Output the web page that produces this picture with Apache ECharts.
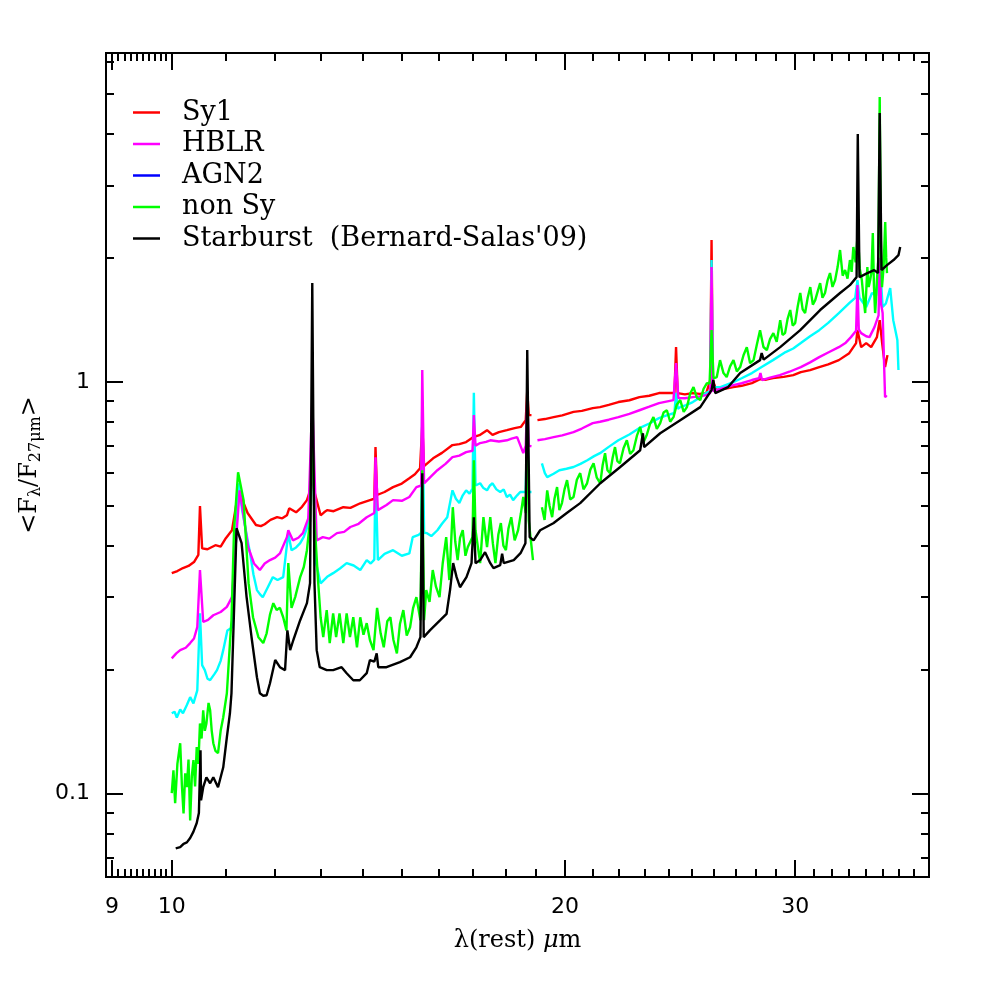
<!DOCTYPE html>
<html>
<head>
<meta charset="utf-8">
<script src="https://cdn.jsdelivr.net/npm/echarts@6/dist/echarts.min.js"></script>
<style>
  html, body { margin: 0; padding: 0; background: #fff; }
  #chart { width: 981px; height: 981px; }
</style>
</head>
<body>
<div id="chart"></div>
<script>
// wavelength (micron), <F_lambda / F_27um>
const sy1 = [[10.0,0.343],[10.1,0.347],[10.2,0.353],[10.3,0.357],[10.4,0.365],[10.48,0.380],[10.51,0.499],[10.55,0.394],[10.65,0.392],[10.8,0.401],[10.9,0.398],[11.0,0.417],[11.12,0.436],[11.25,0.545],[11.43,0.480],[11.6,0.449],[11.7,0.446],[11.78,0.451],[11.9,0.462],[12.04,0.469],[12.15,0.466],[12.25,0.474],[12.3,0.493],[12.45,0.482],[12.58,0.497],[12.69,0.516],[12.78,0.552],[12.81,0.627],[12.85,0.545],[13.0,0.474],[13.08,0.482],[13.15,0.488],[13.3,0.485],[13.53,0.496],[13.7,0.494],[13.94,0.507],[14.18,0.516],[14.29,0.52],[14.32,0.694],[14.36,0.531],[14.55,0.540],[14.77,0.555],[15.0,0.566],[15.2,0.583],[15.35,0.596],[15.49,0.617],[15.55,0.785],[15.6,0.624],[15.85,0.652],[16.1,0.672],[16.4,0.702],[16.6,0.706],[16.8,0.714],[17.03,0.735],[17.2,0.742],[17.43,0.763],[17.6,0.743],[17.8,0.755],[18.05,0.763],[18.3,0.772],[18.5,0.777],[18.66,0.807],[18.71,0.95],[18.76,0.83],[18.85,0.830],[18.95,'-'],[19.05,0.807],[19.3,0.812],[19.6,0.821],[19.9,0.829],[20.3,0.845],[20.6,0.850],[21.0,0.863],[21.27,0.868],[21.6,0.879],[21.97,0.893],[22.4,0.902],[22.8,0.918],[23.2,0.925],[23.6,0.939],[24.25,0.939],[24.32,1.214],[24.39,0.939],[24.7,0.932],[25.05,0.939],[25.35,0.935],[25.65,0.939],[25.83,1.01],[25.89,2.21],[25.95,1.01],[26.1,0.955],[26.5,0.962],[26.9,0.971],[27.3,0.978],[27.8,0.993],[28.2,1.015],[28.5,1.012],[28.85,1.021],[29.4,1.028],[29.9,1.038],[30.3,1.056],[30.8,1.068],[31.3,1.086],[31.8,1.102],[32.4,1.129],[33.0,1.174],[33.4,1.242],[33.48,1.336],[33.7,1.214],[34.0,1.242],[34.3,1.214],[34.65,1.284],[34.82,1.412],[34.97,1.242],[35.15,1.086],[35.3,1.161]];

const hblr = [[10.0,0.213],[10.08,0.219],[10.15,0.223],[10.25,0.226],[10.33,0.232],[10.4,0.238],[10.46,0.2535],[10.51,0.349],[10.57,0.261],[10.66,0.264],[10.76,0.271],[10.9,0.276],[11.02,0.284],[11.12,0.300],[11.2,0.412],[11.27,0.545],[11.32,0.50],[11.44,0.397],[11.56,0.362],[11.68,0.349],[11.78,0.362],[11.89,0.369],[12.0,0.374],[12.1,0.383],[12.25,0.4195],[12.28,0.436],[12.38,0.412],[12.5,0.418],[12.6,0.429],[12.72,0.466],[12.81,0.903],[12.91,0.412],[13.05,0.4195],[13.2,0.416],[13.38,0.429],[13.55,0.432],[13.7,0.444],[13.9,0.452],[14.1,0.469],[14.29,0.48],[14.32,0.656],[14.38,0.488],[14.6,0.502],[14.77,0.516],[15.0,0.514],[15.2,0.525],[15.39,0.555],[15.52,0.56],[15.55,1.068],[15.6,0.567],[15.8,0.590],[15.97,0.610],[16.2,0.632],[16.4,0.656],[16.6,0.662],[16.8,0.675],[16.99,0.68],[17.03,0.830],[17.08,0.70],[17.22,0.710],[17.4,0.715],[17.53,0.721],[17.8,0.716],[18.05,0.721],[18.2,0.728],[18.38,0.734],[18.58,0.671],[18.66,0.70],[18.71,0.903],[18.76,0.70],[18.85,0.697],[18.95,'-'],[19.05,0.721],[19.3,0.726],[19.6,0.734],[19.9,0.741],[20.3,0.755],[20.6,0.770],[21.0,0.794],[21.27,0.80],[21.6,0.809],[21.97,0.821],[22.4,0.836],[22.8,0.853],[23.2,0.870],[23.6,0.888],[24.21,0.903],[24.32,1.110],[24.42,0.913],[24.7,0.912],[25.05,0.918],[25.35,0.922],[25.65,0.928],[25.83,0.94],[25.89,1.90],[25.95,0.95],[26.1,0.955],[26.5,0.968],[26.9,0.982],[27.3,0.992],[27.8,1.01],[28.15,1.02],[28.22,1.05],[28.3,1.01],[28.7,1.024],[29.2,1.038],[29.7,1.058],[30.3,1.086],[30.8,1.115],[31.3,1.148],[31.8,1.178],[32.4,1.214],[32.8,1.245],[33.1,1.284],[33.4,1.33],[33.48,1.717],[33.56,1.34],[33.7,1.313],[34.0,1.29],[34.2,1.284],[34.5,1.358],[34.75,1.45],[34.82,2.0],[34.9,1.55],[35.0,1.469],[35.15,0.918],[35.25,0.928]];

const agn2 = [[10.0,0.1567],[10.05,0.158],[10.09,0.153],[10.15,0.160],[10.2,0.1567],[10.27,0.164],[10.33,0.1714],[10.39,0.1656],[10.46,0.178],[10.51,0.274],[10.55,0.205],[10.6,0.1994],[10.65,0.190],[10.7,0.1885],[10.78,0.195],[10.83,0.1994],[10.9,0.210],[10.95,0.223],[11.03,0.249],[11.12,0.253],[11.18,0.369],[11.25,0.567],[11.32,0.488],[11.48,0.3835],[11.55,0.340],[11.62,0.312],[11.68,0.305],[11.74,0.2997],[11.85,0.318],[11.95,0.3354],[12.05,0.330],[12.17,0.3354],[12.28,0.429],[12.35,0.390],[12.45,0.396],[12.54,0.4056],[12.62,0.420],[12.69,0.441],[12.76,0.488],[12.81,0.807],[12.88,0.369],[13.0,0.324],[13.15,0.336],[13.29,0.343],[13.45,0.352],[13.61,0.3627],[13.78,0.358],[13.94,0.349],[14.1,0.369],[14.2,0.362],[14.29,0.37],[14.32,0.610],[14.38,0.369],[14.55,0.382],[14.77,0.390],[15.0,0.378],[15.2,0.383],[15.29,0.4195],[15.45,0.425],[15.52,0.43],[15.55,0.903],[15.6,0.43],[15.68,0.429],[15.8,0.422],[15.97,0.436],[16.1,0.452],[16.25,0.469],[16.4,0.545],[16.5,0.520],[16.6,0.5075],[16.7,0.530],[16.8,0.545],[16.9,0.535],[16.99,0.55],[17.03,0.94],[17.08,0.56],[17.22,0.567],[17.32,0.552],[17.43,0.545],[17.52,0.560],[17.6,0.567],[17.72,0.548],[17.84,0.540],[17.95,0.548],[18.05,0.525],[18.15,0.532],[18.25,0.516],[18.38,0.530],[18.48,0.540],[18.66,0.54],[18.71,0.807],[18.76,0.54],[18.85,0.540],[19.0,'-'],[19.2,0.634],[19.3,0.600],[19.38,0.587],[19.6,0.598],[19.8,0.610],[20.05,0.615],[20.3,0.621],[20.55,0.632],[20.8,0.645],[21.05,0.660],[21.27,0.671],[21.6,0.695],[21.97,0.721],[22.4,0.745],[22.8,0.772],[23.2,0.792],[23.6,0.816],[23.95,0.830],[24.25,0.84],[24.32,0.94],[24.4,0.86],[24.5,0.868],[24.75,0.878],[25.05,0.893],[25.35,0.915],[25.65,0.94],[25.83,0.95],[25.89,1.976],[25.95,0.97],[26.3,0.971],[26.6,0.985],[26.9,0.998],[27.3,1.02],[27.8,1.05],[28.3,1.088],[28.85,1.129],[29.5,1.181],[29.9,1.205],[30.3,1.242],[30.8,1.29],[31.3,1.335],[31.8,1.39],[32.4,1.469],[33.0,1.553],[33.35,1.60],[33.48,1.767],[33.6,1.60],[33.7,1.579],[34.0,1.519],[34.35,1.643],[34.6,1.62],[34.82,1.976],[35.0,1.519],[35.2,1.55],[35.47,1.689],[35.66,1.412],[35.8,1.33],[35.92,1.263],[35.99,1.068]];

const nonSy = [[10.0,0.1002],[10.03,0.1139],[10.06,0.0947],[10.1,0.118],[10.15,0.1325],[10.18,0.105],[10.21,0.0895],[10.24,0.112],[10.27,0.1036],[10.3,0.121],[10.33,0.0860],[10.36,0.110],[10.39,0.1205],[10.42,0.104],[10.45,0.1296],[10.48,0.118],[10.51,0.148],[10.54,0.136],[10.57,0.1593],[10.6,0.142],[10.63,0.148],[10.67,0.166],[10.7,0.1593],[10.73,0.142],[10.76,0.1325],[10.8,0.127],[10.85,0.1253],[10.9,0.142],[10.95,0.1532],[11.02,0.1752],[11.08,0.232],[11.11,0.2636],[11.16,0.436],[11.24,0.603],[11.35,0.516],[11.45,0.3243],[11.54,0.268],[11.65,0.2398],[11.75,0.232],[11.82,0.245],[11.89,0.272],[11.96,0.290],[12.03,0.279],[12.1,0.2825],[12.17,0.268],[12.24,0.249],[12.28,0.3627],[12.35,0.2825],[12.43,0.300],[12.54,0.3354],[12.62,0.355],[12.69,0.390],[12.76,0.461],[12.81,0.807],[12.86,0.461],[12.94,0.330],[13.0,0.268],[13.06,0.2398],[13.14,0.279],[13.21,0.232],[13.29,0.274],[13.36,0.2398],[13.44,0.274],[13.53,0.232],[13.61,0.274],[13.69,0.2398],[13.77,0.268],[13.86,0.2266],[13.94,0.268],[14.02,0.243],[14.1,0.2593],[14.18,0.236],[14.27,0.223],[14.36,0.2825],[14.45,0.245],[14.53,0.2266],[14.62,0.262],[14.7,0.268],[14.78,0.236],[14.87,0.219],[14.95,0.258],[15.04,0.279],[15.13,0.242],[15.22,0.2535],[15.3,0.282],[15.39,0.300],[15.5,0.2636],[15.55,0.610],[15.6,0.2636],[15.66,0.312],[15.75,0.292],[15.84,0.349],[15.93,0.318],[16.03,0.300],[16.12,0.362],[16.22,0.4195],[16.31,0.330],[16.41,0.496],[16.48,0.410],[16.55,0.369],[16.62,0.418],[16.7,0.436],[16.78,0.378],[16.85,0.397],[16.99,0.42],[17.03,0.645],[17.08,0.436],[17.15,0.398],[17.22,0.3627],[17.32,0.469],[17.43,0.397],[17.53,0.469],[17.61,0.405],[17.69,0.3627],[17.78,0.425],[17.86,0.454],[17.94,0.400],[18.02,0.390],[18.1,0.440],[18.19,0.469],[18.3,0.412],[18.41,0.436],[18.5,0.478],[18.58,0.525],[18.66,0.48],[18.71,0.807],[18.76,0.46],[18.8,0.461],[18.9,0.369],[19.0,'-'],[19.2,0.496],[19.29,0.462],[19.38,0.545],[19.46,0.500],[19.55,0.469],[19.63,0.520],[19.72,0.555],[19.8,0.488],[19.89,0.5075],[19.98,0.548],[20.07,0.577],[20.18,0.518],[20.3,0.525],[20.42,0.578],[20.54,0.600],[20.66,0.548],[20.79,0.567],[20.91,0.612],[21.03,0.634],[21.15,0.585],[21.28,0.567],[21.37,0.628],[21.46,0.671],[21.55,0.610],[21.65,0.600],[21.75,0.655],[21.84,0.694],[21.93,0.642],[22.03,0.634],[22.17,0.690],[22.3,0.721],[22.43,0.668],[22.56,0.682],[22.7,0.740],[22.83,0.777],[22.96,0.712],[23.1,0.744],[23.23,0.790],[23.37,0.821],[23.51,0.768],[23.65,0.794],[23.79,0.842],[23.93,0.853],[24.07,0.800],[24.21,0.821],[24.35,0.880],[24.5,0.903],[24.65,0.845],[24.79,0.868],[24.93,0.935],[25.08,0.971],[25.23,0.915],[25.38,0.903],[25.53,0.962],[25.68,0.993],[25.8,0.99],[25.89,1.335],[25.98,1.02],[26.13,1.027],[26.28,1.129],[26.44,1.050],[26.59,1.027],[26.75,1.090],[26.91,1.129],[27.07,1.060],[27.23,1.086],[27.39,1.160],[27.55,1.214],[27.71,1.110],[27.88,1.129],[28.04,1.230],[28.2,1.335],[28.37,1.215],[28.54,1.194],[28.7,1.270],[28.87,1.313],[29.04,1.250],[29.22,1.412],[29.34,1.300],[29.47,1.313],[29.6,1.420],[29.74,1.494],[29.87,1.370],[30.0,1.389],[30.13,1.520],[30.27,1.643],[30.4,1.500],[30.53,1.469],[30.67,1.600],[30.81,1.698],[30.95,1.540],[31.08,1.579],[31.22,1.660],[31.35,1.737],[31.48,1.600],[31.62,1.643],[31.76,1.760],[31.9,1.837],[32.04,1.700],[32.19,1.767],[32.33,1.900],[32.47,2.09],[32.62,1.810],[32.76,1.868],[32.9,1.780],[33.04,1.976],[33.14,1.850],[33.24,2.125],[33.37,1.950],[33.5,2.3],[33.62,1.880],[33.74,1.767],[33.84,1.600],[33.94,1.469],[34.0,1.650],[34.07,1.90],[34.15,1.700],[34.24,1.767],[34.32,1.850],[34.4,2.298],[34.47,1.700],[34.54,1.469],[34.6,1.600],[34.65,1.767],[34.74,2.0],[34.82,4.918],[34.89,2.2],[34.96,1.698],[35.06,1.900],[35.16,2.443],[35.22,2.000],[35.27,1.837]];

const starburst = [[10.07,0.0736],[10.15,0.0741],[10.21,0.0755],[10.27,0.0761],[10.33,0.078],[10.39,0.0808],[10.45,0.0848],[10.49,0.0897],[10.52,0.1274],[10.53,0.0963],[10.57,0.1036],[10.63,0.1095],[10.7,0.1059],[10.76,0.1095],[10.85,0.1036],[10.95,0.1158],[11.02,0.137],[11.08,0.1567],[11.11,0.1752],[11.15,0.2535],[11.21,0.441],[11.31,0.4056],[11.41,0.300],[11.51,0.2397],[11.62,0.1916],[11.68,0.1752],[11.75,0.1728],[11.82,0.1733],[11.89,0.1853],[12.0,0.211],[12.1,0.2027],[12.21,0.1994],[12.26,0.249],[12.32,0.223],[12.39,0.236],[12.54,0.2636],[12.69,0.290],[12.76,0.3243],[12.81,1.737],[12.86,0.3243],[12.91,0.223],[12.98,0.2027],[13.14,0.1994],[13.29,0.1994],[13.49,0.2027],[13.61,0.196],[13.77,0.1884],[13.93,0.1884],[14.1,0.196],[14.18,0.211],[14.29,0.209],[14.35,0.219],[14.39,0.2027],[14.6,0.2027],[14.95,0.2085],[15.22,0.2143],[15.39,0.2266],[15.5,0.2398],[15.55,0.600],[15.59,0.2398],[15.76,0.249],[16.05,0.2636],[16.23,0.273],[16.33,0.312],[16.42,0.3627],[16.52,0.3354],[16.62,0.317],[16.81,0.3354],[16.96,0.3627],[17.03,0.469],[17.08,0.3627],[17.22,0.369],[17.37,0.3857],[17.53,0.3627],[17.63,0.3527],[17.84,0.3587],[17.9,0.3825],[17.95,0.3627],[18.27,0.369],[18.49,0.3835],[18.65,0.4056],[18.71,1.194],[18.79,0.4195],[18.92,0.412],[19.14,0.436],[19.59,0.4535],[20.06,0.480],[20.54,0.5075],[21.28,0.567],[22.03,0.620],[22.83,0.682],[22.94,0.750],[22.99,0.694],[23.65,0.750],[24.5,0.807],[25.38,0.868],[25.89,0.955],[25.97,1.01],[26.06,0.939],[26.66,0.971],[27.23,1.050],[28.2,1.129],[28.28,1.174],[28.38,1.132],[29.22,1.214],[30.27,1.335],[31.35,1.494],[32.47,1.643],[33.04,1.717],[33.43,1.796],[33.5,3.998],[33.6,1.796],[34.07,1.837],[34.48,1.868],[34.72,1.837],[34.82,4.495],[34.93,1.868],[35.27,1.921],[35.68,1.976],[35.99,2.03],[36.1,2.125]];

// axis ticks and labels
const xMajor = [9, 10, 20, 30];
const xMinor = [9.1, 9.2, 9.3, 9.4, 9.5, 9.6, 9.7, 9.8, 9.9, 11, 12, 13, 14, 15, 16, 17, 18, 19, 21, 22, 23, 24, 25, 26, 27, 28, 29, 31, 32, 33, 34, 35, 36, 37];
const xLabels = [9, 10, 20, 30];
const yMajor = [0.1, 1];
const yMinor = [0.07, 0.08, 0.09, 0.2, 0.3, 0.4, 0.5, 0.6, 0.7, 0.8, 0.9, 2, 3, 4, 5, 6];
const yLabels = [0.1, 1];

const X_MIN = 8.906, X_MAX = 37.98;
const Y_MIN = 0.0627, Y_MAX = 6.29;

const chart = echarts.init(document.getElementById('chart'), null, { renderer: 'canvas' });

function axis(kind, pos, ticks, len, labels, extra) {
  const a = {
    type: 'log',
    min: kind === 'x' ? X_MIN : Y_MIN,
    max: kind === 'x' ? X_MAX : Y_MAX,
    position: pos,
    axisLine: { show: true, lineStyle: { color: '#000', width: 2 } },
    axisTick: { show: true, inside: true, length: len, customValues: ticks, lineStyle: { color: '#000', width: 2 } },
    axisLabel: { show: false },
    splitLine: { show: false },
    minorTick: { show: false }
  };
  if (labels) {
    a.axisLabel = {
      show: true, customValues: labels, color: '#000',
      fontFamily: 'DejaVu Sans', fontSize: 22,
      margin: kind === 'x' ? 19 : 16,
      formatter: v => String(v)
    };
  }
  return Object.assign(a, extra || {});
}

const lineSeries = (name, data, color, z) => ({
  name, type: 'line', data, showSymbol: false, symbol: 'none',
  connectNulls: false, z,
  lineStyle: { color, width: 2.4 }, itemStyle: { color },
  animation: false
});

chart.setOption({
  backgroundColor: '#fff',
  animation: false,
  grid: { left: 106, right: 52, top: 53, bottom: 104, containLabel: false },
  legend: {
    orient: 'vertical', left: 133, top: 99, padding: 0,
    icon: 'rect', itemWidth: 27, itemHeight: 2.5, itemGap: 4.5,
    textStyle: { fontFamily: 'DejaVu Serif', fontSize: 27, color: '#000', lineHeight: 24, padding: [0, 0, 0, 17] },
    data: [
      { name: 'Sy1' },
      { name: 'HBLR' },
      { name: 'AGN2', itemStyle: { color: '#0000ff' } },
      { name: 'non Sy' },
      { name: 'Starburst  (Bernard-Salas\'09)' }
    ]
  },
  xAxis: [
    axis('x', 'bottom', xMajor, 17, xLabels, {
      name: '{a|λ(rest) }{i|μ}{a|m}', nameLocation: 'middle', nameGap: 52,
      nameTextStyle: { rich: {
        a: { fontFamily: 'DejaVu Serif', fontSize: 24, color: '#000' },
        i: { fontFamily: 'DejaVu Serif', fontStyle: 'italic', fontSize: 24, color: '#000' }
      } }
    }),
    axis('x', 'bottom', xMinor, 8),
    axis('x', 'top', xMajor, 17),
    axis('x', 'top', xMinor, 8)
  ],
  yAxis: [
    axis('y', 'left', yMajor, 17, yLabels, {
      name: '{a|<F}{s|λ}{a|/F}{s|27μm}{a|>}', nameLocation: 'middle', nameGap: 62, nameRotate: 90,
      nameTextStyle: { rich: {
        a: { fontFamily: 'DejaVu Serif', fontSize: 24, color: '#000' },
        s: { fontFamily: 'DejaVu Serif', fontSize: 16, color: '#000', padding: [12, 0, 0, 0] }
      } }
    }),
    axis('y', 'left', yMinor, 8),
    axis('y', 'right', yMajor, 17),
    axis('y', 'right', yMinor, 8)
  ],
  series: [
    lineSeries('Sy1', sy1, '#ff0000', 2),
    lineSeries('AGN2', agn2, '#00ffff', 3),
    lineSeries('HBLR', hblr, '#ff00ff', 4),
    lineSeries('non Sy', nonSy, '#00ff00', 5),
    lineSeries('Starburst  (Bernard-Salas\'09)', starburst, '#000000', 6)
  ]
});
</script>
</body>
</html>
